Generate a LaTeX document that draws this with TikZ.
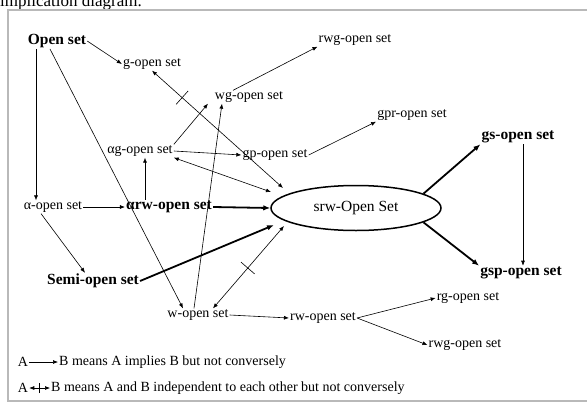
\documentclass[tikz,border=0pt]{standalone}
\usepackage{fontspec}
\setmainfont{Liberation Serif}
\usetikzlibrary{arrows.meta,shapes.geometric}
\begin{document}
\begin{tikzpicture}[
        x=1pt, y=-1pt,
        setname/.style={inner sep=1pt, font=\fontsize{14}{16}\selectfont},
        bsetname/.style={inner sep=1pt, font=\fontsize{15.5}{18}\selectfont\bfseries},
        oval/.style={ellipse, draw, line width=1.5pt, minimum width=170pt, minimum height=45pt, inner sep=0pt, font=\fontsize{15.5}{18}\selectfont},
        implies/.style={-{Latex[length=5pt,width=4pt]}, line width=0.6pt},
        strong/.style={-{Latex[length=7pt,width=5.5pt]}, line width=1.8pt},
        indep/.style={{Latex[length=5pt,width=4pt]}-{Latex[length=5pt,width=4pt]}, line width=0.6pt},
        cross/.style={sloped, inner sep=0pt}
    ]
        \useasboundingbox (0,0) rectangle (587,405);
        \clip (0,0) rectangle (587,405);
        \node[anchor=base west, inner sep=0pt, font=\fontsize{17}{20}\selectfont] (title) at (0,6) {implication diagram.};
        \draw[gray!55, line width=1.5pt] (8,10) rectangle (593,401);

        % sets
        \node[bsetname] (open) at (57,41) {Open set};
        \node[setname] (gopen) at (152,64) {g-open set};
        \node[setname] (rwgup) at (355,40) {rwg-open set};
        \node[setname] (wg) at (249,97) {wg-open set};
        \node[setname] (gpr) at (412,115) {gpr-open set};
        \node[setname] (ag) at (140,151) {αg-open set};
        \node[setname] (gp) at (275,155) {gp-open set};
        \node[bsetname] (gs) at (518,137) {gs-open set};
        \node[setname] (alpha) at (53,207) {α-open set};
        \node[bsetname] (arw) at (169,207) {αrw-open set};
        \node[oval] (srw) at (356,208) {srw-Open Set};
        \node[bsetname] (semi) at (93,281) {Semi-open set};
        \node[bsetname] (gsp) at (521,273) {gsp-open set};
        \node[setname] (w) at (198,315) {w-open set};
        \node[setname] (rw) at (323,318) {rw-open set};
        \node[setname] (rg) at (468,298) {rg-open set};
        \node[setname] (rwgdown) at (465,345) {rwg-open set};

        % free ends near the oval
        \coordinate (srwg) at (283,188);
        \coordinate (srwag) at (271,192);
        \coordinate (srwsemi) at (274,225);
        \coordinate (srww) at (284,226);

        % implications
        \draw[implies] (open.east) -- (gopen.west);
        \draw[implies] ([xshift=-21pt]open.south) -- ([xshift=-17pt]alpha.north);
        \draw[implies] ([xshift=-7pt]open.south) -- ([xshift=-15pt]w.north);
        \draw[implies] (alpha.east) -- (arw.west);
        \draw[implies] ([xshift=-12pt]alpha.south) -- ([xshift=-8pt]semi.north);
        \draw[implies] ([xshift=-24pt]arw.north) -- ([xshift=5pt]ag.south);
        \draw[implies] (ag.north east) -- ([xshift=-41pt]wg.south);
        \draw[implies] (ag.east) -- (gp.west);
        \draw[implies] (gp.east) -- (gpr.south west);
        \draw[implies] ([xshift=-16pt]wg.north) -- (rwgup.south west);
        \draw[implies] ([xshift=-4pt]w.north) -- ([xshift=-27pt]wg.south);
        \draw[implies] (w.east) -- (rw.west);
        \draw[implies] (rw.east) -- (rg.west);
        \draw[implies] (rw.east) -- (rwgdown.west);
        \draw[implies] ([xshift=5pt]gs.south) -- ([xshift=2pt]gsp.north);
        \draw[strong] (arw.east) -- (srw.west);
        \draw[strong] (semi.east) -- (srwsemi);
        \draw[strong] (srw.12) -- (gs.south west);
        \draw[strong] (srw.-12) -- (gsp.north west);

        % independence
        \draw[indep] (ag.south east) -- (srwag);
        \draw[indep] (gopen.south) -- node[cross, pos=.23] {\rule{0.6pt}{18pt}} (srwg);
        \draw[indep] ([xshift=15pt]w.north) -- node[cross, pos=.49] {\rule{0.6pt}{18pt}} (srww);

        % legend
        \node[setname] (legA1) at (23,362) {A};
        \node[setname, anchor=west] (legtext1) at (58,362) {B means A implies B but not conversely};
        \draw[implies] (legA1) -- (legtext1);
        \node[setname] (legA2) at (23,388) {A};
        \node[setname, anchor=west] (legtext2) at (50,388) {B means A and B independent to each other but not conversely};
        \draw[indep] (legA2) -- node[cross] {\rule{0.6pt}{10pt}} (legtext2);
    \end{tikzpicture}
\end{document}
